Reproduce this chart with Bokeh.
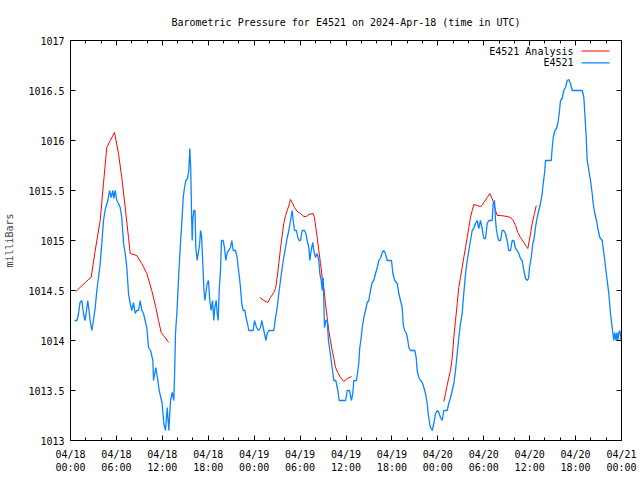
from bokeh.plotting import figure
from bokeh.models import FixedTicker, LinearAxis, CustomJSTickFormatter, Label
from bokeh.embed import file_html
from bokeh.resources import INLINE

NAN = float("nan")

# hours since 04/18 00:00 UTC
obs_hours = [0.52, 0.85, 1.05, 1.24, 1.48, 1.70, 1.90, 2.09, 2.26, 2.42, 2.57, 2.78, 3.00, 3.23, 3.44, 3.66, 3.88,
             4.09, 4.31, 4.54, 4.88, 5.10, 5.32, 5.53, 5.66, 5.84, 6.05, 6.27, 6.49, 6.70, 6.93, 7.15, 7.36, 7.58,
             7.80, 8.01, 8.24, 8.45, 8.67, 8.89, 9.11, 9.32, 9.54, 9.97, 10.20, 10.46, 10.76, 10.85, 11.15, 11.41,
             11.59, 11.98, 12.19, 12.41, 12.64, 12.85, 13.07, 13.29, 13.50, 13.59, 13.72, 13.92, 14.15, 14.37, 14.60,
             14.73, 14.90, 15.07, 15.29, 15.46, 15.59, 15.72, 15.81, 15.90, 15.98, 16.11, 16.27, 16.37, 16.56, 16.69,
             16.86, 16.99, 17.12, 17.29, 17.42, 17.55, 17.68, 17.86, 18.03, 18.20, 18.39, 18.56, 18.73, 18.86, 19.04,
             19.17, 19.30, 19.43, 19.60, 19.73, 19.95, 20.12, 20.29, 20.48, 20.69, 20.91, 21.08, 21.26, 21.56, 21.78,
             21.91, 22.08, 22.21, 22.38, 22.57, 22.80, 22.96, 23.13, 23.30, 23.87, 24.04, 24.31, 24.57, 24.83, 25.00,
             25.18, 25.35, 25.52, 25.70, 25.91, 26.36, 26.57, 26.79, 27.01, 27.22, 27.44, 27.66, 27.87, 28.10, 28.32,
             28.53, 28.75, 28.97, 29.10, 29.27, 29.53, 29.70, 29.88, 30.05, 30.27, 30.58, 30.75, 30.93, 31.14, 31.27,
             31.45, 31.66, 31.79, 32.02, 32.24, 32.45, 32.58, 32.76, 32.90, 33.02, 33.19, 33.37, 33.54, 33.71, 33.89,
             34.07, 34.24, 34.41, 34.67, 34.93, 35.11, 35.94, 36.16, 36.46, 36.59, 36.72, 36.89, 37.02, 37.37, 37.50,
             37.67, 37.80, 37.99, 38.12, 38.33, 38.55, 38.77, 38.98, 39.20, 39.42, 39.63, 39.86, 40.08, 40.29, 40.55,
             40.73, 40.94, 41.16, 41.38, 41.95, 42.12, 42.38, 42.69, 42.90, 43.12, 43.34, 43.47, 43.64, 43.90, 44.08,
             44.21, 44.43, 44.99, 45.17, 45.30, 45.51, 45.74, 45.96, 46.17, 46.39, 46.61, 46.74, 46.91, 47.04, 47.27,
             47.47, 47.70, 47.92, 48.13, 48.35, 48.57, 48.78, 49.22, 49.43, 49.66, 49.88, 50.09, 50.31, 50.53, 50.74,
             50.96, 51.18, 51.39, 51.62, 51.84, 52.05, 52.27, 52.49, 52.70, 52.92, 53.14, 53.35, 53.57, 53.79, 54.01,
             54.23, 54.45, 54.66, 55.10, 55.23, 55.41, 55.54, 55.67, 55.84, 55.97, 56.19, 56.41, 56.62, 56.84, 57.06,
             57.27, 57.50, 57.72, 57.93, 58.15, 58.37, 58.58, 58.80, 59.02, 59.24, 59.46, 59.68, 59.85, 59.98, 60.20,
             60.41, 60.54, 60.76, 60.98, 61.19, 61.41, 61.64, 61.77, 61.94, 62.07, 62.50, 62.82, 62.95, 63.08, 63.29,
             63.51, 63.68, 63.86, 64.03, 64.25, 64.46, 64.68, 64.90, 65.11, 65.33, 65.56, 66.21, 66.87, 67.08, 67.21,
             67.39, 67.52, 67.73, 67.95, 68.17, 68.30, 68.51, 68.73, 68.96, 69.17, 69.48, 69.70, 69.92, 70.13, 70.34,
             70.56, 70.78, 70.99, 71.12, 71.28, 71.41, 71.52, 71.65, 71.78, 71.94]
obs_mb = [1014.2, 1014.2, 1014.27, 1014.38, 1014.4, 1014.27, 1014.2, 1014.3, 1014.4, 1014.3, 1014.2, 1014.1, 1014.2,
          1014.33, 1014.5, 1014.63, 1014.77, 1014.97, 1015.2, 1015.31, 1015.4, 1015.5, 1015.43, 1015.5, 1015.42,
          1015.5, 1015.4, 1015.37, 1015.33, 1015.23, 1014.97, 1014.87, 1014.73, 1014.47, 1014.37, 1014.3, 1014.38,
          1014.27, 1014.3, 1014.3, 1014.4, 1014.3, 1014.27, 1014.13, 1013.93, 1013.9, 1013.8, 1013.6, 1013.73, 1013.6,
          1013.5, 1013.37, 1013.17, 1013.1, 1013.33, 1013.1, 1013.4, 1013.48, 1013.4, 1013.63, 1014.07, 1014.3,
          1014.67, 1014.97, 1015.25, 1015.43, 1015.53, 1015.6, 1015.62, 1015.7, 1015.92, 1015.7, 1015.3, 1015.0,
          1015.2, 1015.3, 1015.3, 1014.93, 1014.8, 1014.87, 1014.95, 1015.1, 1015.05, 1014.77, 1014.53, 1014.4,
          1014.47, 1014.57, 1014.6, 1014.4, 1014.3, 1014.4, 1014.2, 1014.33, 1014.4, 1014.27, 1014.2, 1014.5, 1014.7,
          1015.0, 1015.0, 1014.93, 1014.8, 1014.88, 1014.9, 1014.93, 1015.0, 1014.9, 1014.9, 1014.83, 1014.73,
          1014.63, 1014.53, 1014.37, 1014.3, 1014.3, 1014.22, 1014.17, 1014.1, 1014.1, 1014.2, 1014.13, 1014.1,
          1014.13, 1014.2, 1014.13, 1014.07, 1014.0, 1014.07, 1014.1, 1014.1, 1014.1, 1014.23, 1014.33, 1014.47,
          1014.6, 1014.73, 1014.83, 1014.93, 1015.03, 1015.1, 1015.2, 1015.3, 1015.2, 1015.1, 1015.1, 1015.03, 1015.0,
          1015.0, 1015.1, 1015.1, 1015.07, 1015.0, 1014.93, 1014.8, 1014.9, 1014.98, 1014.9, 1014.83, 1014.87,
          1014.8, 1014.67, 1014.6, 1014.5, 1014.63, 1014.13, 1014.2, 1014.2, 1014.0, 1013.9, 1013.8, 1013.7, 1013.6,
          1013.6, 1013.5, 1013.4, 1013.4, 1013.5, 1013.5, 1013.45, 1013.4, 1013.47, 1013.6, 1013.6, 1013.67, 1013.77,
          1013.93, 1014.03, 1014.13, 1014.23, 1014.3, 1014.38, 1014.4, 1014.5, 1014.58, 1014.6, 1014.67, 1014.73,
          1014.8, 1014.83, 1014.88, 1014.9, 1014.87, 1014.8, 1014.8, 1014.67, 1014.6, 1014.57, 1014.47, 1014.4,
          1014.33, 1014.17, 1014.1, 1014.07, 1014.0, 1013.93, 1013.9, 1013.9, 1013.83, 1013.7, 1013.63, 1013.6,
          1013.58, 1013.53, 1013.47, 1013.37, 1013.27, 1013.18, 1013.13, 1013.1, 1013.17, 1013.27, 1013.3, 1013.28,
          1013.23, 1013.2, 1013.3, 1013.3, 1013.37, 1013.43, 1013.5, 1013.57, 1013.7, 1013.87, 1014.03, 1014.17,
          1014.27, 1014.47, 1014.67, 1014.8, 1014.9, 1015.0, 1015.1, 1015.12, 1015.17, 1015.2, 1015.12, 1015.2,
          1015.12, 1015.02, 1015.02, 1015.17, 1015.2, 1015.2, 1015.37, 1015.4, 1015.2, 1015.1, 1015.03, 1015.0,
          1015.0, 1015.1, 1015.1, 1015.07, 1015.0, 1014.9, 1014.9, 1015.0, 1015.0, 1014.92, 1014.9, 1014.87, 1014.82,
          1014.8, 1014.7, 1014.62, 1014.6, 1014.62, 1014.73, 1014.83, 1014.97, 1015.0, 1015.13, 1015.23, 1015.3,
          1015.37, 1015.47, 1015.57, 1015.67, 1015.8, 1015.8, 1015.8, 1015.93, 1016.03, 1016.1, 1016.12, 1016.17,
          1016.27, 1016.4, 1016.42, 1016.5, 1016.53, 1016.6, 1016.61, 1016.57, 1016.5, 1016.5, 1016.5, 1016.43,
          1016.27, 1016.03, 1015.8, 1015.7, 1015.6, 1015.47, 1015.37, 1015.27, 1015.2, 1015.1, 1015.03, 1015.0,
          1014.87, 1014.73, 1014.6, 1014.47, 1014.27, 1014.13, 1014.0, 1014.08, 1014.0, 1014.08, 1014.0, 1014.08,
          1014.1, 1014.0]

ana_hours = [0.69, 2.35, 2.70, 3.23, 3.88, 4.31, 4.74, 5.19, 5.75, 6.27, 6.70, 7.15, 7.58, 7.80, 8.66, 9.32, 9.97,
             10.62, 11.15, 11.50, 11.85, 12.15, 12.84, NAN,
             24.74, 25.26, 25.78, 26.13, 26.57, 26.79, 27.01, 27.22, 27.44, 27.66, 27.87, 28.10, 28.32, 28.53, 28.75,
             28.97, 29.27, 29.62, 30.05, 30.49, 30.84, 31.14, 31.71, 31.88, 32.05, 32.24, 32.45, 32.67, 32.89, 33.10,
             33.32, 33.54, 33.75, 33.97, 34.20, 34.41, 34.63, 34.93, 35.28, 35.71, 36.16, 36.72, NAN,
             48.78, 49.00, 49.22, 49.43, 49.66, 49.88, 50.09, 50.31, 50.53, 50.74, 50.96, 51.18, 51.39, 51.62, 51.84,
             52.05, 52.27, 52.49, 52.70, 53.14, 53.57, 53.79, 54.01, 54.45, 54.79, 55.10, 55.32, 55.54, 55.76, 56.19,
             57.06, 57.50, 57.85, 58.15, 58.45, 58.80, 59.24, 59.59, 59.76, 60.02, 60.33, 60.63, 60.86]
ana_mb = [1014.49, 1014.61, 1014.63, 1014.9, 1015.2, 1015.57, 1015.93, 1016.0, 1016.08, 1015.87, 1015.63, 1015.33,
          1015.03, 1014.87, 1014.85, 1014.77, 1014.67, 1014.5, 1014.33, 1014.2, 1014.08, 1014.05, 1013.98, NAN,
          1014.43, 1014.4, 1014.38, 1014.43, 1014.48, 1014.52, 1014.63, 1014.77, 1014.92, 1015.05, 1015.17, 1015.25,
          1015.3, 1015.35, 1015.41, 1015.38, 1015.33, 1015.29, 1015.27, 1015.24, 1015.24, 1015.26, 1015.27, 1015.23,
          1015.13, 1015.03, 1014.9, 1014.77, 1014.63, 1014.53, 1014.37, 1014.23, 1014.1, 1014.0, 1013.9, 1013.82,
          1013.73, 1013.68, 1013.63, 1013.59, 1013.62, 1013.64, NAN,
          1013.39, 1013.47, 1013.55, 1013.63, 1013.7, 1013.83, 1014.03, 1014.2, 1014.37, 1014.53, 1014.63, 1014.73,
          1014.83, 1014.93, 1015.03, 1015.13, 1015.23, 1015.3, 1015.36, 1015.35, 1015.34, 1015.35, 1015.38, 1015.43,
          1015.47, 1015.42, 1015.37, 1015.3, 1015.25, 1015.25, 1015.24, 1015.23, 1015.2, 1015.15, 1015.08, 1015.03,
          1014.98, 1014.94, 1014.92, 1015.03, 1015.17, 1015.27, 1015.35]

x_tick_hours = [0, 6, 12, 18, 24, 30, 36, 42, 48, 54, 60, 66, 72]
x_tick_dates = ["04/18", "04/18", "04/18", "04/18", "04/19", "04/19", "04/19", "04/19",
                "04/20", "04/20", "04/20", "04/20", "04/21"]
x_tick_times = ["00:00", "06:00", "12:00", "18:00", "00:00", "06:00", "12:00", "18:00",
                "00:00", "06:00", "12:00", "18:00", "00:00"]
x_minor_hours = list(range(0, 73, 2))
y_ticks = [1013, 1013.5, 1014, 1014.5, 1015, 1015.5, 1016, 1016.5, 1017]

title_text = "Barometric Pressure for E4521 on 2024-Apr-18 (time in UTC)"
series_names = ["E4521 Analysis", "E4521"]
series_colors = ["#ff0000", "#0a84ff"]
series_widths = [1, 1.3]

FONT = "DejaVu Sans Mono"
FS = "10px"

p = figure(width=640, height=480, x_range=(0, 72), y_range=(1013, 1017),
           output_backend="svg", toolbar_location=None,
           min_border_left=70, min_border_right=19, min_border_top=40, min_border_bottom=40,
           title=title_text)
p.title.text_font = FONT
p.title.text_font_size = FS
p.title.text_font_style = "normal"
p.title.align = "center"
p.title.text_color = "black"
p.title.standoff = 25
p.outline_line_color = "black"
p.outline_line_width = 1
p.xgrid.visible = False
p.ygrid.visible = False
p.background_fill_color = "white"
p.border_fill_color = "white"

xt = FixedTicker(ticks=x_tick_hours, minor_ticks=x_minor_hours)
yt = FixedTicker(ticks=y_ticks, minor_ticks=[])

xa = p.xaxis[0]
xa.ticker = xt
xa.major_label_overrides = {h: d + "\n" + t for h, d, t in zip(x_tick_hours, x_tick_dates, x_tick_times)}

ya = p.yaxis[0]
ya.ticker = yt
ya.formatter = CustomJSTickFormatter(code="return tick.toString();")
ya.axis_label = "milliBars"
ya.axis_label_text_font = FONT
ya.axis_label_text_font_size = FS
ya.axis_label_text_font_style = "normal"
ya.axis_label_standoff = 10

blank = CustomJSTickFormatter(code="return '';")
top = LinearAxis(ticker=xt, formatter=blank)
right = LinearAxis(ticker=yt, formatter=blank)
p.add_layout(top, "above")
p.add_layout(right, "right")

for ax in [xa, ya, top, right]:
    ax.major_tick_in = 5
    ax.major_tick_out = 0
    ax.minor_tick_in = 3
    ax.minor_tick_out = 0
    ax.axis_line_color = "black"
    ax.major_tick_line_color = "black"
    ax.minor_tick_line_color = "black"
    ax.major_label_text_font = FONT
    ax.major_label_text_font_size = FS
    ax.major_label_text_color = "black"
xa.major_label_standoff = 8
xa.major_label_text_line_height = 1.2
ya.major_label_standoff = 6
top.major_label_standoff = 0
right.major_label_standoff = 0

p.line(ana_hours, ana_mb, line_color=series_colors[0], line_width=series_widths[0])
p.line(obs_hours, obs_mb, line_color=series_colors[1], line_width=series_widths[1])

# legend (gnuplot style: text then line sample), positioned in data units
leg_text_x = 65.73
leg_line_x0, leg_line_x1 = 66.78, 70.43
leg_rows_y = [1016.895, 1016.777]
for name, col, lw, yy in zip(series_names, series_colors, series_widths, leg_rows_y):
    p.add_layout(Label(x=leg_text_x, y=yy, text=name, text_font=FONT, text_font_size=FS,
                       text_align="right", text_baseline="middle", text_color="black"))
    p.segment(x0=[leg_line_x0], y0=[yy], x1=[leg_line_x1], y1=[yy], line_color=col, line_width=lw)

open("out.html", "w").write(file_html(p, INLINE))
